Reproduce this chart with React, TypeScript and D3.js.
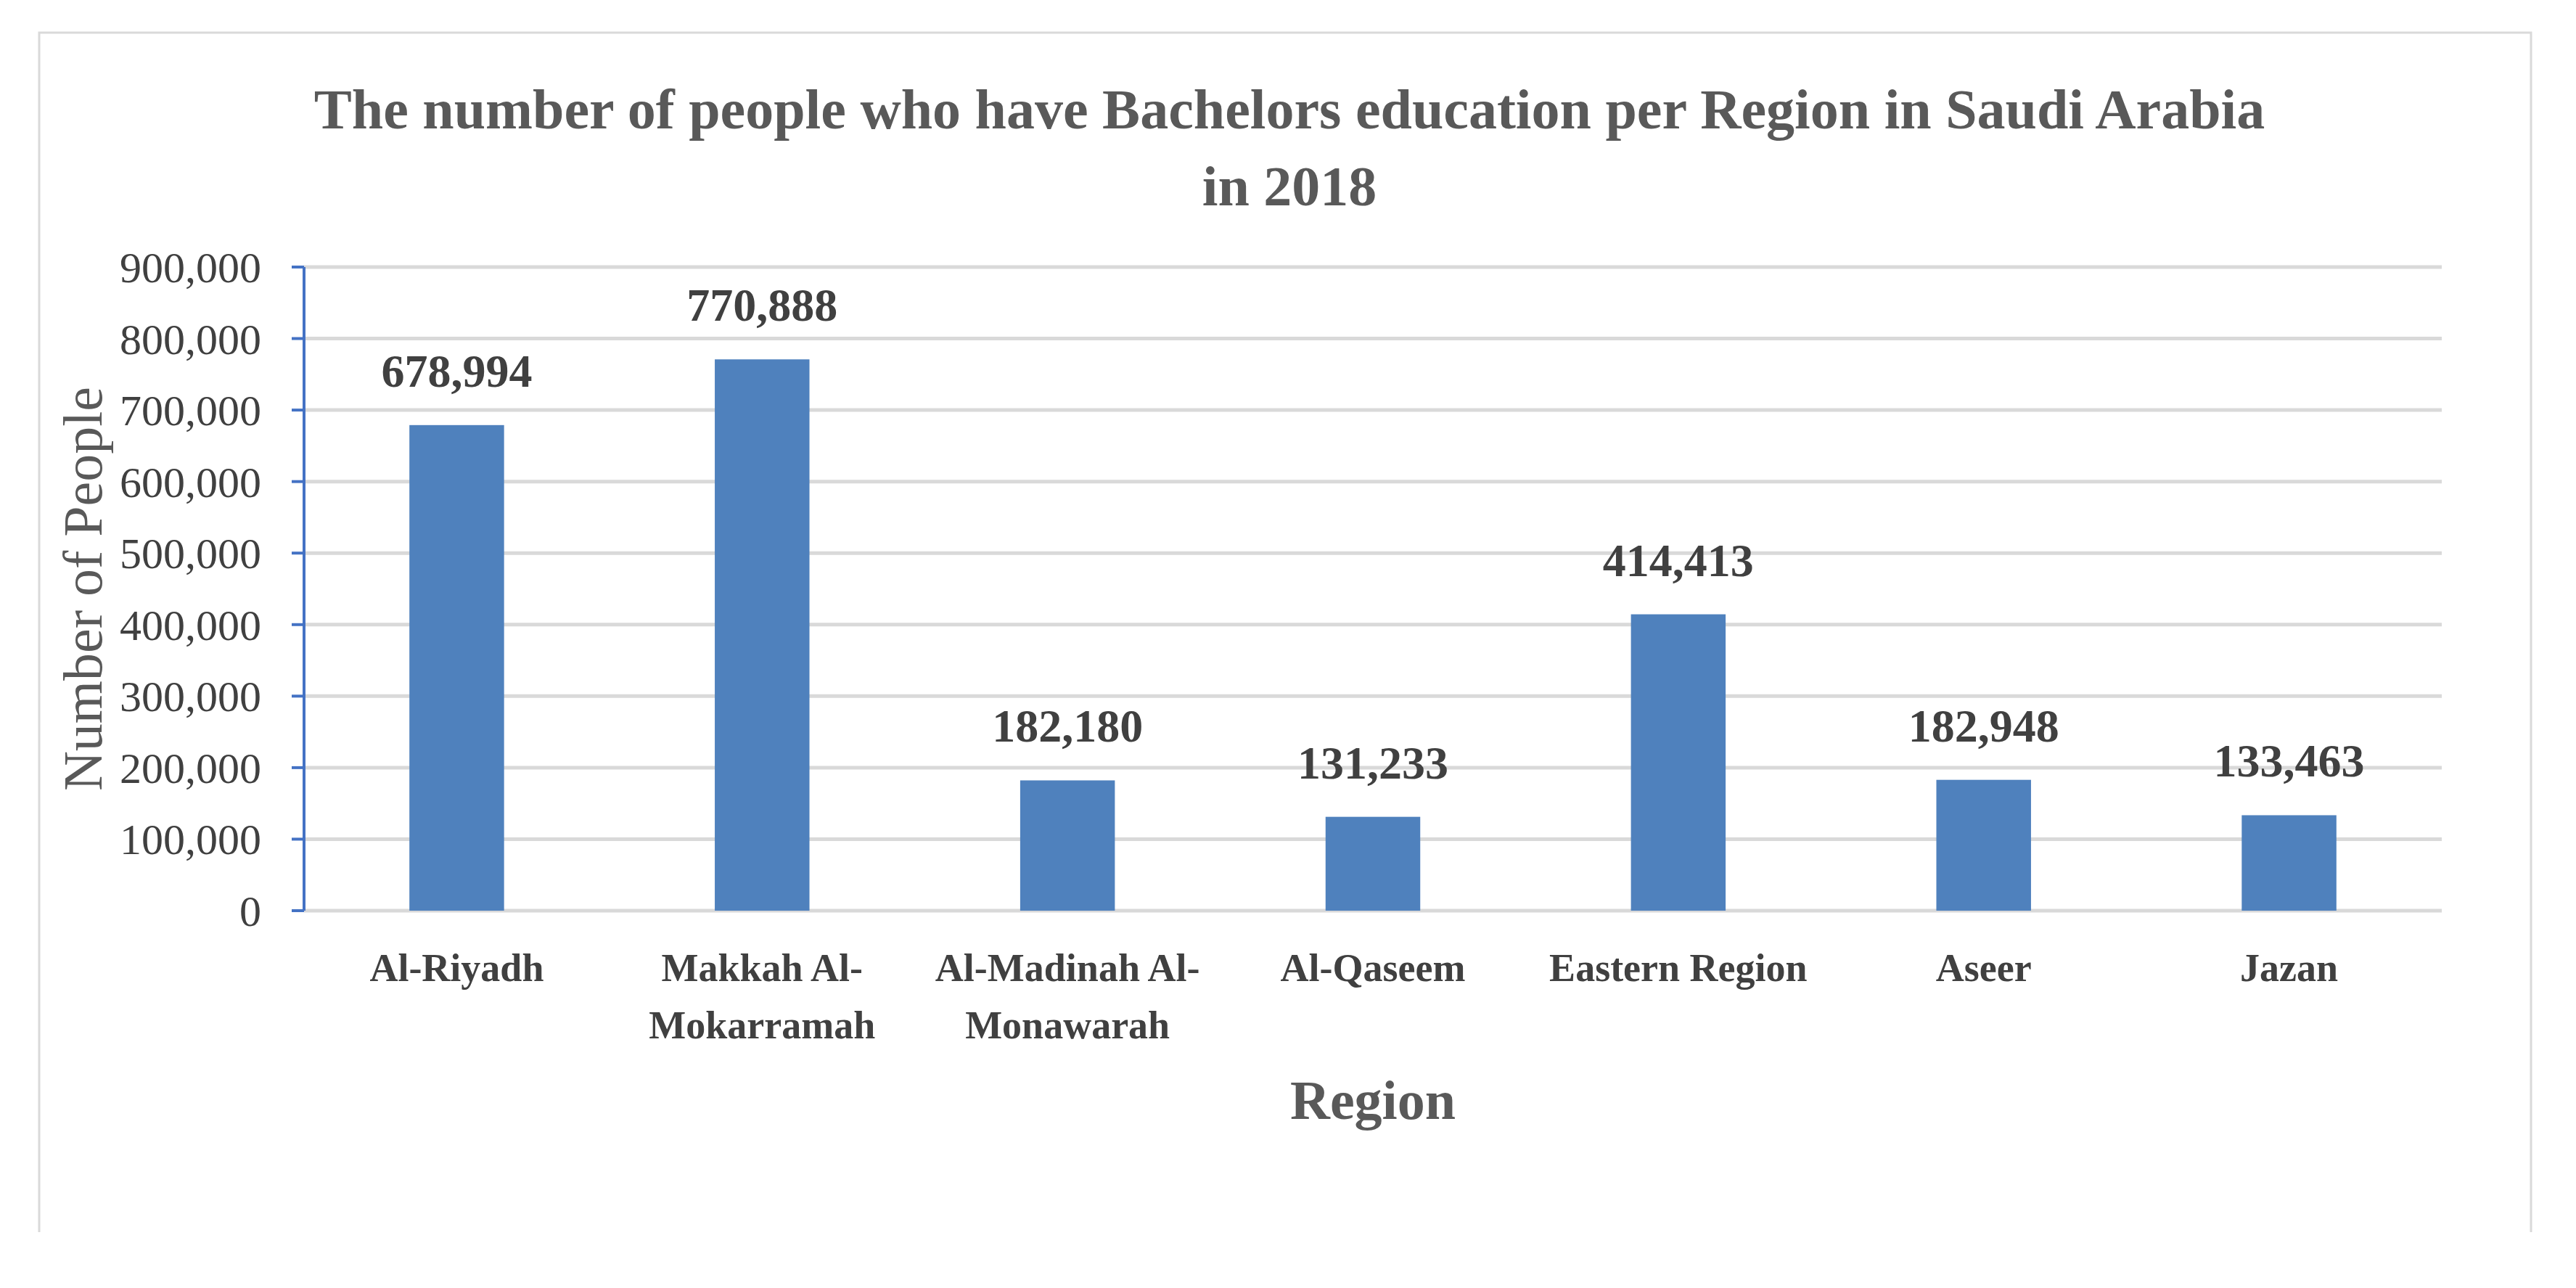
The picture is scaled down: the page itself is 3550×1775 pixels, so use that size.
import React from 'react';
import * as d3 from 'd3';

// data
const regions = [
    'Al-Riyadh',
    'Makkah Al-Mokarramah',
    'Al-Madinah Al-Monawarah',
    'Al-Qaseem',
    'Eastern Region',
    'Aseer',
    'Jazan'
];
const regionLines = [
    ['Al-Riyadh'],
    ['Makkah Al-', 'Mokarramah'],
    ['Al-Madinah Al-', 'Monawarah'],
    ['Al-Qaseem'],
    ['Eastern Region'],
    ['Aseer'],
    ['Jazan']
];
const bachelors = [678994, 770888, 182180, 131233, 414413, 182948, 133463];
const yTicks = [0, 100000, 200000, 300000, 400000, 500000, 600000, 700000, 800000, 900000];
const titleLines = ['The number of people who have Bachelors education per Region in Saudi Arabia', 'in 2018'];

const W = 3550;
const H = 1775;
const margin = {left: 419, right: 185, top: 368, bottom: 520};
const font = '"Liberation Serif", "Times New Roman", serif';

export default function App() {
    const x = d3.scaleBand()
        .domain(regions)
        .range([margin.left, W - margin.right])
        .paddingInner(0.69)
        .paddingOuter(0.345);
    const y = d3.scaleLinear().domain([0, 900000]).range([H - margin.bottom, margin.top]);
    const fmt = d3.format(',');
    const cx = (margin.left + W - margin.right) / 2;

    return (
        <svg width={W} height={H} style={{position: 'absolute', left: 0, top: 0, background: '#fff'}}>
            {/* frame, bottom edge cut off as in the source */}
            <path d="M54,1698 V45 H3488 V1698" fill="none" stroke="#D9D9D9" strokeWidth={3} />

            {/* title */}
            <text x={1777} textAnchor="middle" fontFamily={font} fontWeight="bold" fontSize={78} fill="#595959">
                {titleLines.map((t, i) => (
                    <tspan key={i} x={1777} y={177 + i * 106}>{t}</tspan>
                ))}
            </text>

            {/* gridlines */}
            {yTicks.map((t) => (
                <line key={t} x1={margin.left} x2={W - margin.right} y1={y(t)} y2={y(t)}
                    stroke="#D9D9D9" strokeWidth={5} />
            ))}

            {/* bars */}
            {bachelors.map((v, i) => (
                <rect key={regions[i]} x={x(regions[i])} y={y(v)} width={x.bandwidth()}
                    height={y(0) - y(v)} fill="#4F81BD" />
            ))}

            {/* data labels */}
            {bachelors.map((v, i) => (
                <text key={'l' + i} x={x(regions[i]) + x.bandwidth() / 2} y={y(v) - 53}
                    textAnchor="middle" fontFamily={font} fontWeight="bold" fontSize={64} fill="#404040">
                    {fmt(v)}
                </text>
            ))}

            {/* y axis */}
            <line x1={margin.left} x2={margin.left} y1={y(900000)} y2={y(0)} stroke="#4472C4" strokeWidth={4} />
            {yTicks.map((t) => (
                <g key={'t' + t}>
                    <line x1={margin.left - 17} x2={margin.left} y1={y(t)} y2={y(t)} stroke="#4472C4" strokeWidth={4} />
                    <text x={360} y={y(t)} dy="0.35em" textAnchor="end" fontFamily={font}
                        fontSize={60} fill="#404040">{fmt(t)}</text>
                </g>
            ))}

            {/* x tick labels */}
            {regionLines.map((lines, i) => (
                <text key={'x' + i} textAnchor="middle" fontFamily={font} fontWeight="bold" fontSize={54} fill="#404040">
                    {lines.map((s, j) => (
                        <tspan key={j} x={x(regions[i]) + x.bandwidth() / 2} y={1352 + j * 79}>{s}</tspan>
                    ))}
                </text>
            ))}

            {/* axis titles */}
            <text x={cx} y={1542} textAnchor="middle" fontFamily={font} fontWeight="bold" fontSize={76} fill="#595959">Region</text>
            <text transform={`translate(140, ${(margin.top + H - margin.bottom) / 2}) rotate(-90)`} textAnchor="middle"
                fontFamily={font} fontSize={76} fill="#595959">Number of People</text>
        </svg>
    );
}
